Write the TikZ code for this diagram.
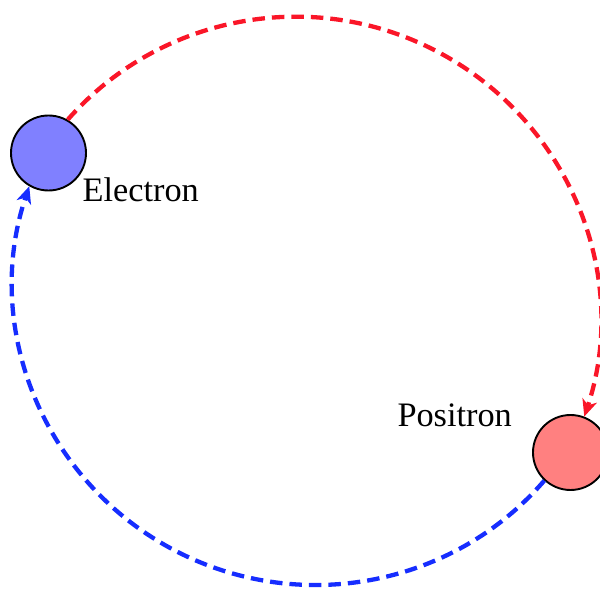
\documentclass[tikz,border=0pt]{standalone}
\usepackage{fontspec}
\setmainfont{Liberation Serif}
\usetikzlibrary{arrows.meta,calc}
\definecolor{arcred}{RGB}{250,22,40}
\definecolor{arcblue}{RGB}{22,45,255}
\definecolor{efill}{RGB}{128,128,255}
\definecolor{pfill}{RGB}{255,128,128}
\tikzset{
  particle/.style={circle,draw=black,line width=1.9pt,minimum size=75pt,inner sep=0pt},
  plabel/.style={font=\fontsize{34.3}{41}\selectfont,inner sep=0pt,anchor=base west},
  orbit/.style={line width=4.3pt,dash pattern=on 12.5pt off 7pt,
    -{Stealth[length=17pt,width=15pt,inset=5pt]}}
}
\begin{document}
\begin{tikzpicture}[x=1pt,y=1pt]
\useasboundingbox (0,0) rectangle (600,592);
\node[particle,fill=efill] (e) at (48.5,439) {};
\node[particle,fill=pfill] (p) at (570.5,139.5) {};
\node[plabel] (el) at (82.4,390.3) {Electron};
\node[plabel] (pl) at (397.3,165.3) {Positron};
% arc centres
\coordinate (rc) at (295.9,271.3);
\coordinate (bc) at (314.6,309.2);
\coordinate (rm) at ($(rc)+(60.1:304pt)$);
\coordinate (bm) at ($(bc)+(-119.7:302pt)$);
\draw[orbit,arcred] (e.60)
  .. controls ($(e.60)+(48.62:144.6pt)$) and ($(rm)+(150.1:144.6pt)$) .. (rm)
  .. controls ($(rm)+(-29.9:144.6pt)$) and ($(p.69)+(71.61:144.6pt)$) .. (p.69);
\draw[orbit,arcblue] (p.227)
  .. controls ($(p.227)+(-130.75:144.5pt)$) and ($(bm)+(-29.7:144.5pt)$) .. (bm)
  .. controls ($(bm)+(150.3:144.5pt)$) and ($(e.240)+(251.33:144.5pt)$) .. (e.240);
\end{tikzpicture}
\end{document}
